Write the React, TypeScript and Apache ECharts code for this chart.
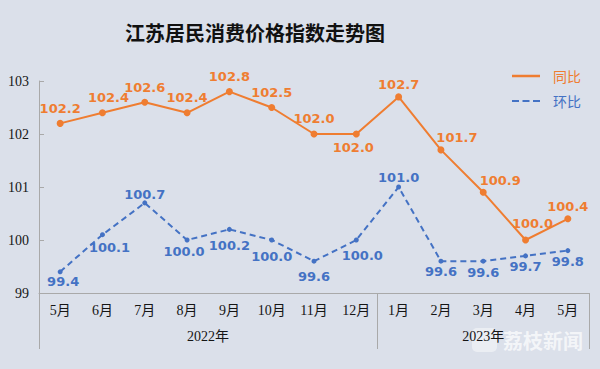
import React, { useEffect, useRef } from "react";
import * as echarts from "echarts";

const months = ["5月", "6月", "7月", "8月", "9月", "10月", "11月", "12月", "1月", "2月", "3月", "4月", "5月"];
const years = ["2022年", "2023年"];
const tongbi = [102.2, 102.4, 102.6, 102.4, 102.8, 102.5, 102.0, 102.0, 102.7, 101.7, 100.9, 100.0, 100.4];
const huanbi = [99.4, 100.1, 100.7, 100.0, 100.2, 100.0, 99.6, 100.0, 101.0, 99.6, 99.6, 99.7, 99.8];
const yTicks = { min: 99, max: 103, interval: 1 };

// label placements (style only, centre offset from the point)
const tongbiLabelOffsets = [
  [0, -15], [6, -15], [0, -15], [0, -15], [0, -15], [0, -15], [0, -16],
  [-3, 13], [0, -12], [16, -12], [17, -12], [7, -17], [0, -12],
];
const huanbiLabelOffsets = [
  [3, 10], [7, 13], [0, -8], [-3, 11], [0, 16], [0, 16], [0, 15],
  [6, 15], [0, -10], [0, 10], [0, 11], [0, 11], [0, 11],
];

const ORANGE = "#ef7d31";
const BLUE = "#4472c4";
const AXIS = "#a9a9a9";
const SERIF = "'Liberation Serif', 'Times New Roman', 'Noto Sans CJK SC', serif";
const SANS = "'DejaVu Sans', 'Noto Sans CJK SC', sans-serif";

export default function App() {
  const ref = useRef<HTMLDivElement>(null);
  useEffect(() => {
    if (!ref.current) return;
    const chart = echarts.init(ref.current, undefined, { renderer: "svg" });
    const mkData = (vals: number[], offs: number[][], color: string) =>
      vals.map((v, i) => ({
        value: v,
        label: {
          show: true,
          position: "inside",
          offset: offs[i],
          color,
          fontFamily: SANS,
          fontWeight: "bold",
          fontSize: 13,
          formatter: (p: any) => Number(p.value).toFixed(1),
        },
      }));
    const yearIdx = [3, 10];
    chart.setOption({
      animation: false,
      backgroundColor: "#dbe0ea",
      title: {
        text: "江苏居民消费价格指数走势图",
        left: 125,
        top: 22,
        padding: 0,
        textStyle: {
          fontFamily: "'Noto Sans CJK SC', sans-serif",
          fontWeight: "bold",
          fontSize: 20,
          color: "#111",
        },
      },
      legend: {
        orient: "vertical",
        left: 512,
        top: 69,
        padding: 0,
        itemWidth: 28,
        itemHeight: 2.5,
        itemGap: 11,
        textStyle: { fontSize: 14, fontFamily: "'Noto Sans CJK SC', sans-serif", padding: [0, 0, 0, 8] },
        data: [
          { name: "同比", icon: "rect", textStyle: { color: ORANGE } },
          {
            name: "环比",
            icon: "path://M0 0h7v2H0zM10.5 0h7v2h-7zM21 0h7v2h-7z",
            textStyle: { color: BLUE },
          },
        ],
      },
      grid: { left: 39, right: 11, top: 81, bottom: 76, containLabel: false },
      xAxis: [
        {
          type: "category",
          data: months,
          boundaryGap: true,
          position: "bottom",
          axisLine: { show: true, lineStyle: { color: AXIS, width: 1 } },
          axisTick: { show: false },
          axisLabel: {
            interval: 0,
            margin: 10,
            fontSize: 14,
            fontFamily: SERIF,
            color: "#151515",
          },
        },
        {
          type: "category",
          data: months.map((m, i) =>
            i === yearIdx[0] ? { value: m, textStyle: { padding: [0, 0, 0, 42] } } : m
          ),
          boundaryGap: true,
          position: "bottom",
          offset: 0,
          axisLine: { show: false },
          axisTick: {
            show: true,
            length: 56,
            interval: (i: number) => i === 0 || i === 8,
            lineStyle: { color: AXIS, width: 1 },
          },
          axisLabel: {
            interval: 0,
            margin: 36,
            fontSize: 14,
            fontFamily: SERIF,
            color: "#151515",
            formatter: (_v: string, i: number) =>
              i === yearIdx[0] ? years[0] : i === yearIdx[1] ? years[1] : "",
          },
        },
      ],
      yAxis: {
        type: "value",
        min: yTicks.min,
        max: yTicks.max,
        interval: yTicks.interval,
        axisLine: { show: true, lineStyle: { color: AXIS, width: 1 } },
        axisTick: { show: true, inside: true, length: 5, lineStyle: { color: AXIS } },
        splitLine: { show: false },
        axisLabel: { margin: 10, fontSize: 14, fontFamily: SERIF, color: "#151515" },
      },
      series: [
        {
          name: "同比",
          type: "line",
          data: mkData(tongbi, tongbiLabelOffsets, ORANGE),
          symbol: "circle",
          symbolSize: 7,
          itemStyle: { color: ORANGE },
          lineStyle: { color: ORANGE, width: 2 },
          z: 3,
        },
        {
          name: "环比",
          type: "line",
          data: mkData(huanbi, huanbiLabelOffsets, BLUE),
          symbol: "circle",
          symbolSize: 5,
          itemStyle: { color: BLUE },
          lineStyle: { color: BLUE, width: 2, type: [6, 4] },
          z: 3,
        },
      ],
      graphic: [
        {
          type: "group",
          left: 472,
          top: 328,
          z: 10,
          children: [
            {
              type: "rect",
              shape: { x: 0, y: 0, width: 25, height: 24, r: 5 },
              style: { fill: "rgba(255,255,255,0.45)" },
            },
            {
              type: "text",
              x: 31,
              y: 2,
              style: {
                text: "荔枝新闻",
                fontSize: 20,
                fontWeight: "bold",
                fontFamily: "'Noto Sans CJK SC', sans-serif",
                fill: "rgba(255,255,255,0.7)",
              },
            },
          ],
        },
      ],
    });
    return () => chart.dispose();
  }, []);
  return (
    <div
      ref={ref}
      style={{ position: "fixed", left: 0, top: 0, width: 600, height: 369 }}
    />
  );
}
